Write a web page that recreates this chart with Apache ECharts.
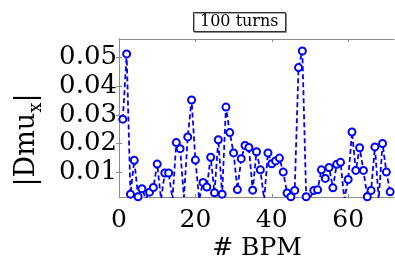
<!DOCTYPE html>
<html>
<head>
<meta charset="UTF-8">
<script src="https://cdn.jsdelivr.net/npm/echarts@6/dist/echarts.min.js"></script>
<style>
  html, body { margin: 0; padding: 0; background: #fff; }
  #chart { width: 395px; height: 263px; }
</style>
</head>
<body>
<div id="chart"></div>
<script>
// BPM index and |Dmu_x| (values under the axis are clipped)
var bpm = [];
for (var i = 1; i <= 71; i++) bpm.push(i);
var dmu = [
  0.0285, 0.0513, 0.0023, 0.0141, 0.0014, 0.0042, 0.0008, 0.0030, 0.0046, 0.0128,
  0.0005, 0.0097, 0.0097, 0.0005, 0.0203, 0.0182, 0.0012, 0.0223, 0.0352, 0.0142,
  0.0005, 0.0064, 0.0048, 0.0152, 0.0028, 0.0213, 0.0023, 0.0327, 0.0238, 0.0167,
  0.0039, 0.0147, 0.0193, 0.0186, 0.0037, 0.0171, 0.0108, 0.0005, 0.0167, 0.0129,
  0.0139, 0.0149, 0.0100, 0.0027, 0.0014, 0.0036, 0.0465, 0.0523, 0.0014, 0.0009,
  0.0036, 0.0038, 0.0108, 0.0078, 0.0116, 0.0045, 0.0127, 0.0134, 0.0005, 0.0074,
  0.0240, 0.0106, 0.0185, 0.0106, 0.0014, 0.0036, 0.0188, 0.0005, 0.0200, 0.0100,
  0.0031
];
var xTicks = [0, 20, 40, 60];
var yTicks = [0.01, 0.02, 0.03, 0.04, 0.05];

var chart = echarts.init(document.getElementById('chart'));
var frame = '#8c8c8c';
var font = 'DejaVu Serif';

function xAx(pos, labels) {
  return {
    type: 'value', position: pos, min: 0, max: 72,
    axisLine: { show: true, lineStyle: { color: frame, width: 1 } },
    axisTick: { show: true, inside: true, length: 3, customValues: xTicks, lineStyle: { color: frame } },
    axisLabel: { show: labels, customValues: xTicks, color: '#000', fontFamily: font, fontSize: 25, margin: 11 },
    splitLine: { show: false }
  };
}
function yAx(pos, labels) {
  var ax = {
    type: 'value', position: pos, min: 0.0013, max: 0.0565,
    axisLine: { show: true, lineStyle: { color: frame, width: 1 } },
    axisTick: { show: true, inside: true, length: 3, customValues: yTicks, lineStyle: { color: frame } },
    axisLabel: { show: labels, customValues: yTicks, color: '#000', fontFamily: font, fontSize: 26, margin: 2 },
    splitLine: { show: false }
  };
  if (labels) {
    ax.name = '|Dmu{sub|x}|';
    ax.nameLocation = 'middle';
    ax.nameGap = 74;
    ax.nameRotate = 90;
    ax.nameTextStyle = {
      color: '#000', fontFamily: font, fontSize: 27, padding: [0, 44, 0, 0],
      rich: { sub: { fontSize: 18, fontFamily: font, color: '#000', padding: [18, 0, 0, 0] } }
    };
  }
  return ax;
}

chart.setOption({
  animation: false,
  title: {
    text: '100 turns', left: 193, top: 12,
    padding: [2, 7, 2, 7],
    borderColor: '#333', borderWidth: 1, backgroundColor: '#fff',
    shadowColor: 'rgba(0,0,0,0.35)', shadowOffsetX: 1, shadowOffsetY: 1,
    textStyle: { fontFamily: font, fontSize: 16, fontWeight: 'normal', color: '#000' }
  },
  grid: { left: 119, right: 1, top: 39, bottom: 66 },
  xAxis: [xAx('bottom', true), xAx('top', false)],
  yAxis: [yAx('left', true), yAx('right', false)],
  graphic: [{
    type: 'text', x: 257, y: 248,
    style: { text: '# BPM', fill: '#000', font: '25px "DejaVu Serif"', align: 'center', verticalAlign: 'middle' }
  }],
  series: [{
    type: 'line',
    data: bpm.map(function (b, k) { return [b, dmu[k]]; }),
    symbol: 'emptyCircle', symbolSize: 7,
    itemStyle: { color: '#0000ff', borderWidth: 1.3 },
    lineStyle: { color: '#0000ff', width: 1.8, type: [5, 3] },
    clip: true
  }]
});
</script>
</body>
</html>
